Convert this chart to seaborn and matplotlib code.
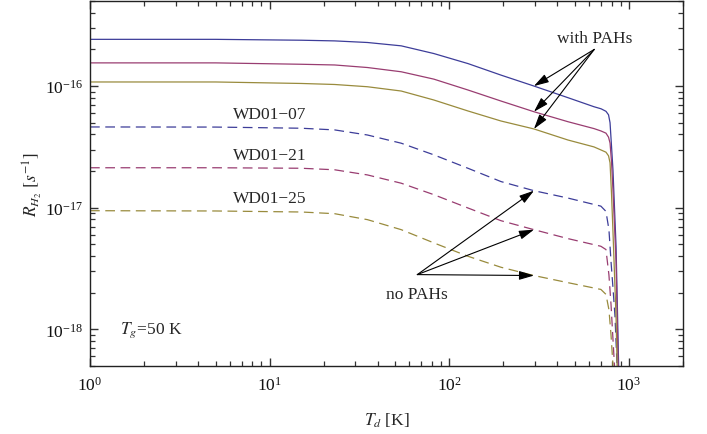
import numpy as np
import pandas as pd
import matplotlib
matplotlib.use("Agg")
import matplotlib.pyplot as plt
from matplotlib.ticker import LogLocator, NullFormatter
import seaborn as sns

# ---- data ----
T_solid = [1, 5, 15, 23, 35, 54, 82, 127, 194, 296, 458, 639, 700, 745, 770, 785, 800, 815, 848, 875, 910]
wd07_pah = [2.42e-16, 2.42e-16, 2.38e-16, 2.35e-16, 2.28e-16, 2.14e-16, 1.85e-16, 1.53e-16, 1.23e-16,
            1.0e-16, 8.02e-17, 6.76e-17, 6.5e-17, 6.2e-17, 5.8e-17, 5.0e-17, 3.2e-17, 2.05e-17,
            4.8e-18, 5.7e-19, 3e-20]
wd21_pah = [1.55e-16, 1.55e-16, 1.51e-16, 1.49e-16, 1.42e-16, 1.31e-16, 1.14e-16, 9.28e-17, 7.53e-17,
            6.15e-17, 5.09e-17, 4.47e-17, 4.27e-17, 4.1e-17, 3.8e-17, 3.4e-17, 2.38e-17, 1.4e-17,
            3.55e-18, 3.5e-19, 1e-20]
wd25_pah = [1.08e-16, 1.08e-16, 1.05e-16, 1.03e-16, 9.87e-17, 9.1e-17, 7.68e-17, 6.24e-17, 5.16e-17,
            4.44e-17, 3.6e-17, 3.16e-17, 2.98e-17, 2.86e-17, 2.67e-17, 2.34e-17, 1.3e-17, 6.4e-18,
            1.25e-18, 1.5e-19, 5e-21]

T_dashed = [1, 5, 15, 23, 35, 54, 82, 127, 194, 296, 458, 698, 745, 774, 795, 815, 836, 859, 880]
wd07_nopah = [4.61e-17, 4.6e-17, 4.5e-17, 4.36e-17, 3.96e-17, 3.39e-17, 2.72e-17, 2.11e-17, 1.64e-17,
              1.38e-17, 1.20e-17, 1.03e-17, 9.33e-18, 6.6e-18, 3.6e-18, 2.2e-18, 1.3e-18, 5e-19, 1.5e-19]
wd21_nopah = [2.13e-17, 2.13e-17, 2.11e-17, 2.05e-17, 1.86e-17, 1.59e-17, 1.28e-17, 9.95e-18, 7.82e-18,
              6.6e-18, 5.57e-18, 4.82e-18, 4.53e-18, 2.8e-18, 1.6e-18, 8.3e-19, 4.3e-19, 2e-19, 8e-20]
wd25_nopah = [9.45e-18, 9.4e-18, 9.22e-18, 8.93e-18, 7.98e-18, 6.6e-18, 5.14e-18, 3.99e-18, 3.24e-18,
              2.77e-18, 2.42e-18, 2.13e-18, 1.94e-18, 1.45e-18, 9e-19, 5.1e-19, 1.5e-19, 5e-20, 2e-20]

models = ["WD01\u221207", "WD01\u221221", "WD01\u221225"]
colors = ["#3D3D99", "#993D71", "#998B3D"]
solid_series = [wd07_pah, wd21_pah, wd25_pah]
dashed_series = [wd07_nopah, wd21_nopah, wd25_nopah]

x_ticks = [1, 10, 100, 1000]
y_ticks = [1e-18, 1e-17, 1e-16]

# ---- styling ----
sns.set_theme(style="ticks")
plt.rcParams["font.family"] = ["Liberation Serif", "DejaVu Serif"]
plt.rcParams["mathtext.fontset"] = "stix"
plt.rcParams["lines.scale_dashes"] = False

fig = plt.figure(figsize=(7.07, 4.35), dpi=100)
ax = fig.add_axes([90 / 707, 1 - 367 / 435, (683 - 90) / 707, (367 - 2) / 435])

rows = []
for m, ys in zip(models, solid_series):
    for t, y in zip(T_solid, ys):
        rows.append(dict(T=t, R=y, model=m, kind="with PAHs"))
for m, ys in zip(models, dashed_series):
    for t, y in zip(T_dashed, ys):
        rows.append(dict(T=t, R=y, model=m, kind="no PAHs"))
df = pd.DataFrame(rows)

for m, c in zip(models, colors):
    sub = df[(df.model == m) & (df.kind == "with PAHs")]
    sns.lineplot(data=sub, x="T", y="R", ax=ax, color=c, lw=0.9, estimator=None, sort=False, legend=False)
    sub = df[(df.model == m) & (df.kind == "no PAHs")]
    sns.lineplot(data=sub, x="T", y="R", ax=ax, color=c, lw=0.9, estimator=None, sort=False,
                 legend=False, dashes=False, linestyle=(0, (7, 4)))

ax.set_xscale("log")
ax.set_yscale("log")
ax.set_xlim(1, 2000)
ax.set_ylim(5e-19, 5e-16)
ax.set_xticks(x_ticks)
ax.set_yticks(y_ticks)
ax.xaxis.set_minor_locator(LogLocator(base=10, subs=np.arange(2, 10), numticks=20))
ax.yaxis.set_minor_locator(LogLocator(base=10, subs=np.arange(2, 10), numticks=20))
ax.xaxis.set_minor_formatter(NullFormatter())
ax.yaxis.set_minor_formatter(NullFormatter())

for s in ax.spines.values():
    s.set_linewidth(1.0)
    s.set_color("#222222")
ax.tick_params(which="both", direction="in", top=True, right=True, bottom=True, left=True,
               color="#333333")
ax.tick_params(which="major", length=6, width=1.0, labelsize=12.5, labelcolor="#111111")
ax.tick_params(which="minor", length=3.5, width=0.9)
ax.tick_params(axis="x", which="major", pad=7)
ax.tick_params(axis="y", which="major", pad=5)

ax.set_xlabel(r"$T_d$ [K]", fontsize=12.5, labelpad=12)
ax.set_ylabel(r"$R_{H_2}\ [s^{-1}]$", fontsize=12.5, labelpad=1)

# ---- annotations ----
idx_s = T_solid.index(296)
idx_d = T_dashed.index(296)
ax.text(10, 5.9e-17, models[0], ha="center", va="center", fontsize=12.5)
ax.text(10, 2.72e-17, models[1], ha="center", va="center", fontsize=12.5)
ax.text(10, 1.21e-17, models[2], ha="center", va="center", fontsize=12.5)
ax.text(1.47, 1e-18, r"$T_g$=50 K", ha="left", va="center", fontsize=12.5)

ax.text(647, 2.47e-16, "with PAHs", ha="center", va="center", fontsize=12.5)
ax.text(65.8, 1.97e-18, "no PAHs", ha="center", va="center", fontsize=12.5)

arrow_kw = dict(arrowstyle="-|>,head_length=0.9,head_width=0.27", color="black", lw=0.8,
                shrinkA=0, shrinkB=0, mutation_scale=10)
for ys in solid_series:
    ax.annotate("", xy=(T_solid[idx_s], ys[idx_s]), xytext=(641, 2.0e-16), arrowprops=arrow_kw)
for ys in dashed_series:
    ax.annotate("", xy=(T_dashed[idx_d], ys[idx_d]), xytext=(66.4, 2.82e-18), arrowprops=arrow_kw)

fig.savefig("out.png", dpi=100)
